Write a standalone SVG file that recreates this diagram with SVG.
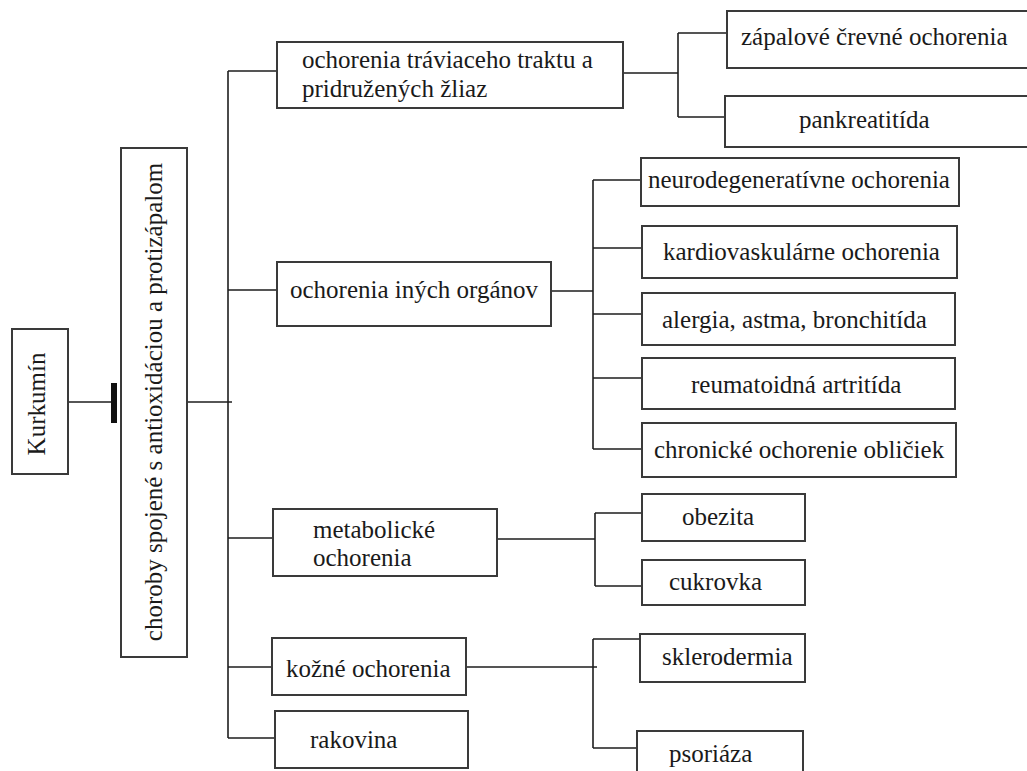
<svg xmlns="http://www.w3.org/2000/svg" width="1027" height="771" viewBox="0 0 1027 771">
<style>
.box{fill:#fff;stroke:#3a3a3a;stroke-width:2}
.ln{fill:none;stroke:#1e1e1e;stroke-width:1.6}
text{font-family:"Liberation Serif","Times New Roman",serif;font-size:25px;fill:#1a1a1a}
</style>
<rect width="1027" height="771" fill="#fff"/>
<g id="connectors">
<path class="ln" d="M68 402H112"/>
<rect x="111" y="383" width="6" height="40" fill="#111"/>
<path class="ln" d="M187 402H232"/>
<path class="ln" d="M228 71V738"/>
<path class="ln" d="M228 71H277M228 290H277M228 538H273M228 667H272M228 738H275"/>
<path class="ln" d="M623 73H678M678 33V117M678 33H727M678 117H725"/>
<path class="ln" d="M551 291H593M593 180V449M593 180H641M593 248H642M593 314H642M593 378H642M593 449H642"/>
<path class="ln" d="M497 539H595M595 513V586M595 513H642M595 586H642"/>
<path class="ln" d="M466 667H597M593 639V748M593 639H640M593 748H637"/>
</g>
<g id="kurkumin"><rect class="box" x="12" y="329" width="56" height="145"/><text transform="translate(45 404) rotate(-90)" text-anchor="middle">Kurkumín</text></g>
<g id="choroby"><rect class="box" x="121" y="148" width="66" height="509"/><text transform="translate(162 402) rotate(-90)" text-anchor="middle">choroby spojené s antioxidáciou a protizápalom</text></g>
<g id="travenie"><rect class="box" x="277" y="42" width="346" height="66"/><text x="302" y="68">ochorenia tráviaceho traktu a</text><text x="302" y="97">pridružených žliaz</text></g>
<g id="ine-organy"><rect class="box" x="277" y="262" width="274" height="64"/><text x="290" y="298">ochorenia iných orgánov</text></g>
<g id="metabolicke"><rect class="box" x="273" y="509" width="224" height="67"/><text x="313" y="538">metabolické</text><text x="313" y="566">ochorenia</text></g>
<g id="kozne"><rect class="box" x="272" y="638" width="194" height="57"/><text x="286" y="677">kožné ochorenia</text></g>
<g id="rakovina"><rect class="box" x="275" y="711" width="193" height="57"/><text x="310" y="748">rakovina</text></g>
<g id="zapalove"><rect class="box" x="727" y="11" width="310" height="57"/><text x="741" y="45">zápalové črevné ochorenia</text></g>
<g id="pankreatitida"><rect class="box" x="725" y="96" width="312" height="51"/><text x="799" y="128">pankreatitída</text></g>
<g id="neuro"><rect class="box" x="641" y="158" width="318" height="48"/><text x="648" y="188">neurodegeneratívne ochorenia</text></g>
<g id="kardio"><rect class="box" x="642" y="226" width="315" height="52"/><text x="663" y="260">kardiovaskulárne ochorenia</text></g>
<g id="alergia"><rect class="box" x="642" y="293" width="313" height="52"/><text x="662" y="328">alergia, astma, bronchitída</text></g>
<g id="reuma"><rect class="box" x="642" y="358" width="313" height="51"/><text x="691" y="393">reumatoidná artritída</text></g>
<g id="oblicky"><rect class="box" x="642" y="423" width="314" height="54"/><text x="654" y="458">chronické ochorenie obličiek</text></g>
<g id="obezita"><rect class="box" x="642" y="494" width="163" height="47"/><text x="682" y="525">obezita</text></g>
<g id="cukrovka"><rect class="box" x="642" y="560" width="163" height="45"/><text x="669" y="590">cukrovka</text></g>
<g id="sklerodermia"><rect class="box" x="640" y="634" width="165" height="48"/><text x="662" y="665">sklerodermia</text></g>
<g id="psoriaza"><rect class="box" x="637" y="731" width="166" height="50"/><text x="669" y="762">psoriáza</text></g>
</svg>
